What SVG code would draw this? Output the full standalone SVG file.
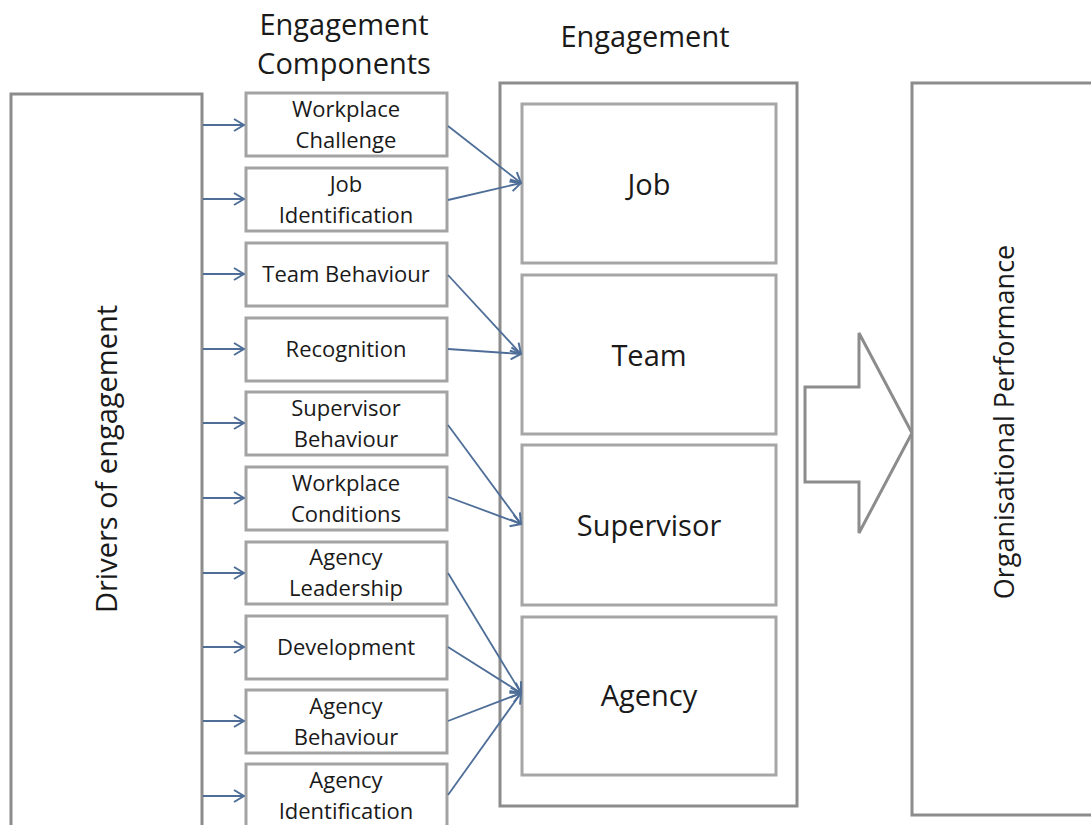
<svg xmlns="http://www.w3.org/2000/svg" width="1091" height="825" viewBox="0 0 1091 825">
<defs>
<marker id="ah" viewBox="0 0 12 14" refX="11" refY="7" markerWidth="12" markerHeight="14" markerUnits="userSpaceOnUse" orient="auto">
<path d="M1,1 L11,7 L1,13" fill="none" stroke="#4e6e98" stroke-width="2"/>
</marker>
</defs>
<style>
text{font-family:"Open Sans","Liberation Sans",sans-serif;fill:#1a1a1a;text-anchor:middle}
.comp rect{fill:#fff;stroke:#a3a3a3;stroke-width:3}
.comp text{font-size:22px}
.inner rect{fill:#fff;stroke:#a6a6a6;stroke-width:3}
.inner text{font-size:29px}
.head{font-size:29px}
.big{fill:#fff;stroke:#8c8c8c;stroke-width:3}
.conn line{stroke:#4e6e98;stroke-width:1.8;marker-end:url(#ah)}
</style>
<rect width="1091" height="825" fill="#fff"/>

<g id="headers">
<text class="head" x="344" y="35">Engagement</text>
<text class="head" x="344" y="74">Components</text>
<text class="head" x="645" y="47">Engagement</text>
</g>

<g id="drivers">
<path class="big" d="M11,840 L11,94 L202,94 L202,840"/>
<text class="head" transform="translate(117,459) rotate(-90)">Drivers of engagement</text>
</g>

<g id="engagement">
<rect class="big" x="500" y="83" width="297" height="723" stroke="#858585"/>
</g>
<g id="eng-job" class="inner"><rect x="522" y="104" width="254" height="159"/><text x="649" y="195">Job</text></g>
<g id="eng-team" class="inner"><rect x="522" y="275" width="254" height="159"/><text x="649" y="366">Team</text></g>
<g id="eng-supervisor" class="inner"><rect x="522" y="445" width="254" height="160"/><text x="649" y="536">Supervisor</text></g>
<g id="eng-agency" class="inner"><rect x="522" y="617" width="254" height="158"/><text x="649" y="706">Agency</text></g>

<g id="c1" class="comp"><rect x="246" y="93" width="201" height="63"/><text x="346" y="117">Workplace</text><text x="346" y="148">Challenge</text></g>
<g id="c2" class="comp"><rect x="246" y="168" width="201" height="63"/><text x="346" y="192">Job</text><text x="346" y="223">Identification</text></g>
<g id="c3" class="comp"><rect x="246" y="243" width="201" height="63"/><text x="346" y="282">Team Behaviour</text></g>
<g id="c4" class="comp"><rect x="246" y="318" width="201" height="63"/><text x="346" y="357">Recognition</text></g>
<g id="c5" class="comp"><rect x="246" y="392" width="201" height="63"/><text x="346" y="416">Supervisor</text><text x="346" y="447">Behaviour</text></g>
<g id="c6" class="comp"><rect x="246" y="467" width="201" height="63"/><text x="346" y="491">Workplace</text><text x="346" y="522">Conditions</text></g>
<g id="c7" class="comp"><rect x="246" y="542" width="201" height="62"/><text x="346" y="565">Agency</text><text x="346" y="596">Leadership</text></g>
<g id="c8" class="comp"><rect x="246" y="616" width="201" height="63"/><text x="346" y="655">Development</text></g>
<g id="c9" class="comp"><rect x="246" y="690" width="201" height="63"/><text x="346" y="714">Agency</text><text x="346" y="745">Behaviour</text></g>
<g id="c10" class="comp"><rect x="246" y="764" width="201" height="63"/><text x="346" y="788">Agency</text><text x="346" y="819">Identification</text></g>

<g id="bigarrow">
<path class="big" d="M805,387 L859,387 L859,333 L912,433 L859,533 L859,482 L805,482 Z" stroke="#858585"/>
</g>

<g id="performance">
<path class="big" d="M1100,83 L912,83 L912,815 L1100,815"/>
<text class="head" style="font-size:27px" transform="translate(1014,422) rotate(-90)">Organisational Performance</text>
</g>

<g id="connectors" class="conn">
<line x1="203" y1="125" x2="244" y2="125"/>
<line x1="203" y1="199" x2="244" y2="199"/>
<line x1="203" y1="274" x2="244" y2="274"/>
<line x1="203" y1="349" x2="244" y2="349"/>
<line x1="203" y1="423" x2="244" y2="423"/>
<line x1="203" y1="498" x2="244" y2="498"/>
<line x1="203" y1="573" x2="244" y2="573"/>
<line x1="203" y1="647" x2="244" y2="647"/>
<line x1="203" y1="721" x2="244" y2="721"/>
<line x1="203" y1="796" x2="244" y2="796"/>
<line x1="448" y1="126" x2="521" y2="183"/>
<line x1="448" y1="200" x2="521" y2="183"/>
<line x1="448" y1="275" x2="521" y2="354"/>
<line x1="448" y1="349" x2="521" y2="354"/>
<line x1="448" y1="425" x2="521" y2="524"/>
<line x1="448" y1="497" x2="521" y2="524"/>
<line x1="448" y1="573" x2="521" y2="693"/>
<line x1="448" y1="647" x2="521" y2="693"/>
<line x1="448" y1="721" x2="521" y2="693"/>
<line x1="448" y1="795" x2="521" y2="693"/>
</g>
</svg>
